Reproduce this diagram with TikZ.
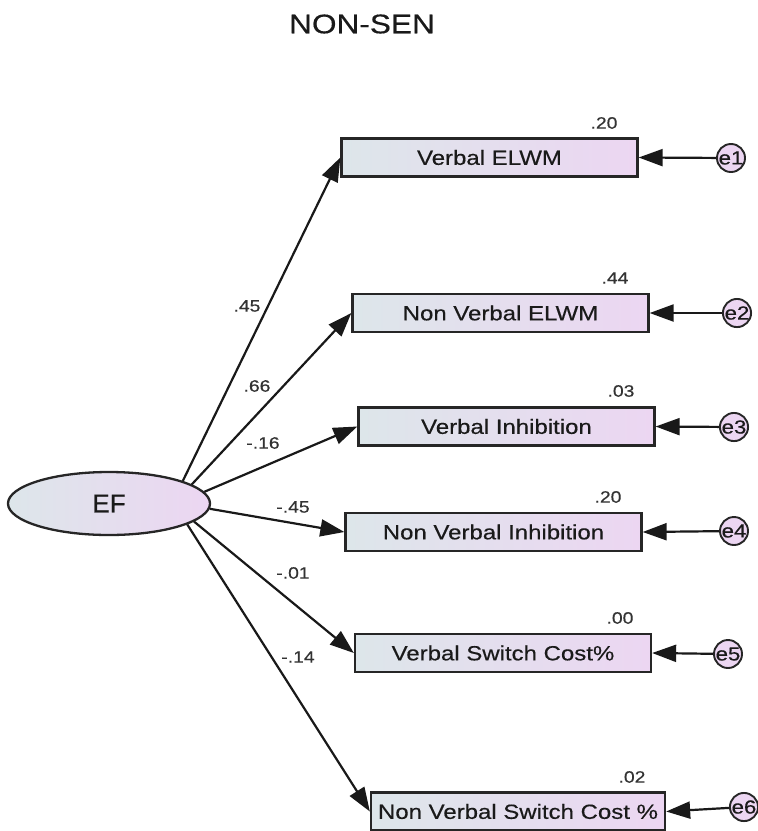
\documentclass[tikz,border=0pt]{standalone}
\usepackage{fontspec}
\usetikzlibrary{arrows.meta,shapes.geometric}
\newfontfamily\boxfont[FakeStretch=1.17,FakeBold=0.4]{Liberation Sans}
\newfontfamily\plainsans[FakeBold=0.4]{Liberation Sans}
\definecolor{gleft}{HTML}{DDE6EA}
\definecolor{gright}{HTML}{ECD6F2}
\definecolor{txt}{HTML}{1A1A1A}
\tikzset{
  obs/.style={draw=black!85, line width=2.3pt, minimum width=296pt, minimum height=38pt,
    left color=gleft, right color=gright, inner sep=0pt,
    font=\boxfont\fontsize{20.5}{22}\selectfont, text=txt},
  lat/.style={ellipse, draw=black!85, line width=2.3pt, minimum width=202pt, minimum height=63pt,
    left color=gleft, right color=gright, inner sep=0pt,
    font=\plainsans\fontsize{26}{28}\selectfont, text=txt},
  err/.style={circle, draw=black!85, line width=1.9pt, minimum size=25pt, inner sep=0pt,
    fill=gright, font=\boxfont\fontsize{19}{20}\selectfont, text=txt},
  arr/.style={line width=2.2pt, draw=black!90, -{Triangle[length=24pt,width=17pt]}},
  coef/.style={font=\boxfont\fontsize{16.5}{18}\selectfont, text=black!80, inner sep=0pt},
  ttl/.style={font=\boxfont\fontsize{27}{30}\selectfont, text=txt, inner sep=0pt}
}
\begin{document}
\begin{tikzpicture}[x=1pt,y=-1pt]
\useasboundingbox (0,0) rectangle (758,831);
\fill[white] (0,0) rectangle (758,831);

\node[ttl] (title) at (362,24) {NON-SEN};

\node[lat] (EF) at (109,503.5) {EF};

\node[obs] (b1) at (489.5,157.5) {Verbal ELWM};
\node[obs] (b2) at (500.5,313) {Non Verbal ELWM};
\node[obs] (b3) at (506.5,426.5) {Verbal Inhibition};
\node[obs] (b4) at (493.5,532) {Non Verbal Inhibition};
\node[obs] (b5) at (503,653) {Verbal Switch Cost\%};
\node[obs, minimum width=294pt] (b6) at (518,811.5) {Non Verbal Switch Cost \%};

\node[err] (e1) at (731,158) {e1};
\node[err] (e2) at (737,313) {e2};
\node[err] (e3) at (734,427) {e3};
\node[err] (e4) at (734,531) {e4};
\node[err] (e5) at (728,654) {e5};
\node[err] (e6) at (744,807) {e6};

\node[coef] (r1) at (604,123) {.20};
\node[coef] (r2) at (615,278) {.44};
\node[coef] (r3) at (621,391) {.03};
\node[coef] (r4) at (608,497) {.20};
\node[coef] (r5) at (620,618) {.00};
\node[coef] (r6) at (632,777) {.02};

\draw[arr] (EF.17.1) -- (b1.west);
\draw[arr] (EF.13.7) -- (b2.west);
\draw[arr] (EF.7.9) -- (b3.west);
\draw[arr] (EF.-3.6) -- (b4.west);
\draw[arr] (EF.-12.2) -- (b5.west);
\draw[arr] (EF.-15.8) -- (b6.west);

\draw[arr] (e1) -- (b1.east);
\draw[arr] (e2) -- (b2.east);
\draw[arr] (e3) -- (b3.east);
\draw[arr] (e4) -- (b4.east);
\draw[arr] (e5) -- (b5.east);
\draw[arr] (e6) -- (b6.east);

\node[coef] (l1) at (247,306) {.45};
\node[coef] (l2) at (257,386) {.66};
\node[coef] (l3) at (263,443) {-.16};
\node[coef] (l4) at (293,507) {-.45};
\node[coef] (l5) at (293,573) {-.01};
\node[coef] (l6) at (298,657) {-.14};
\end{tikzpicture}
\end{document}
